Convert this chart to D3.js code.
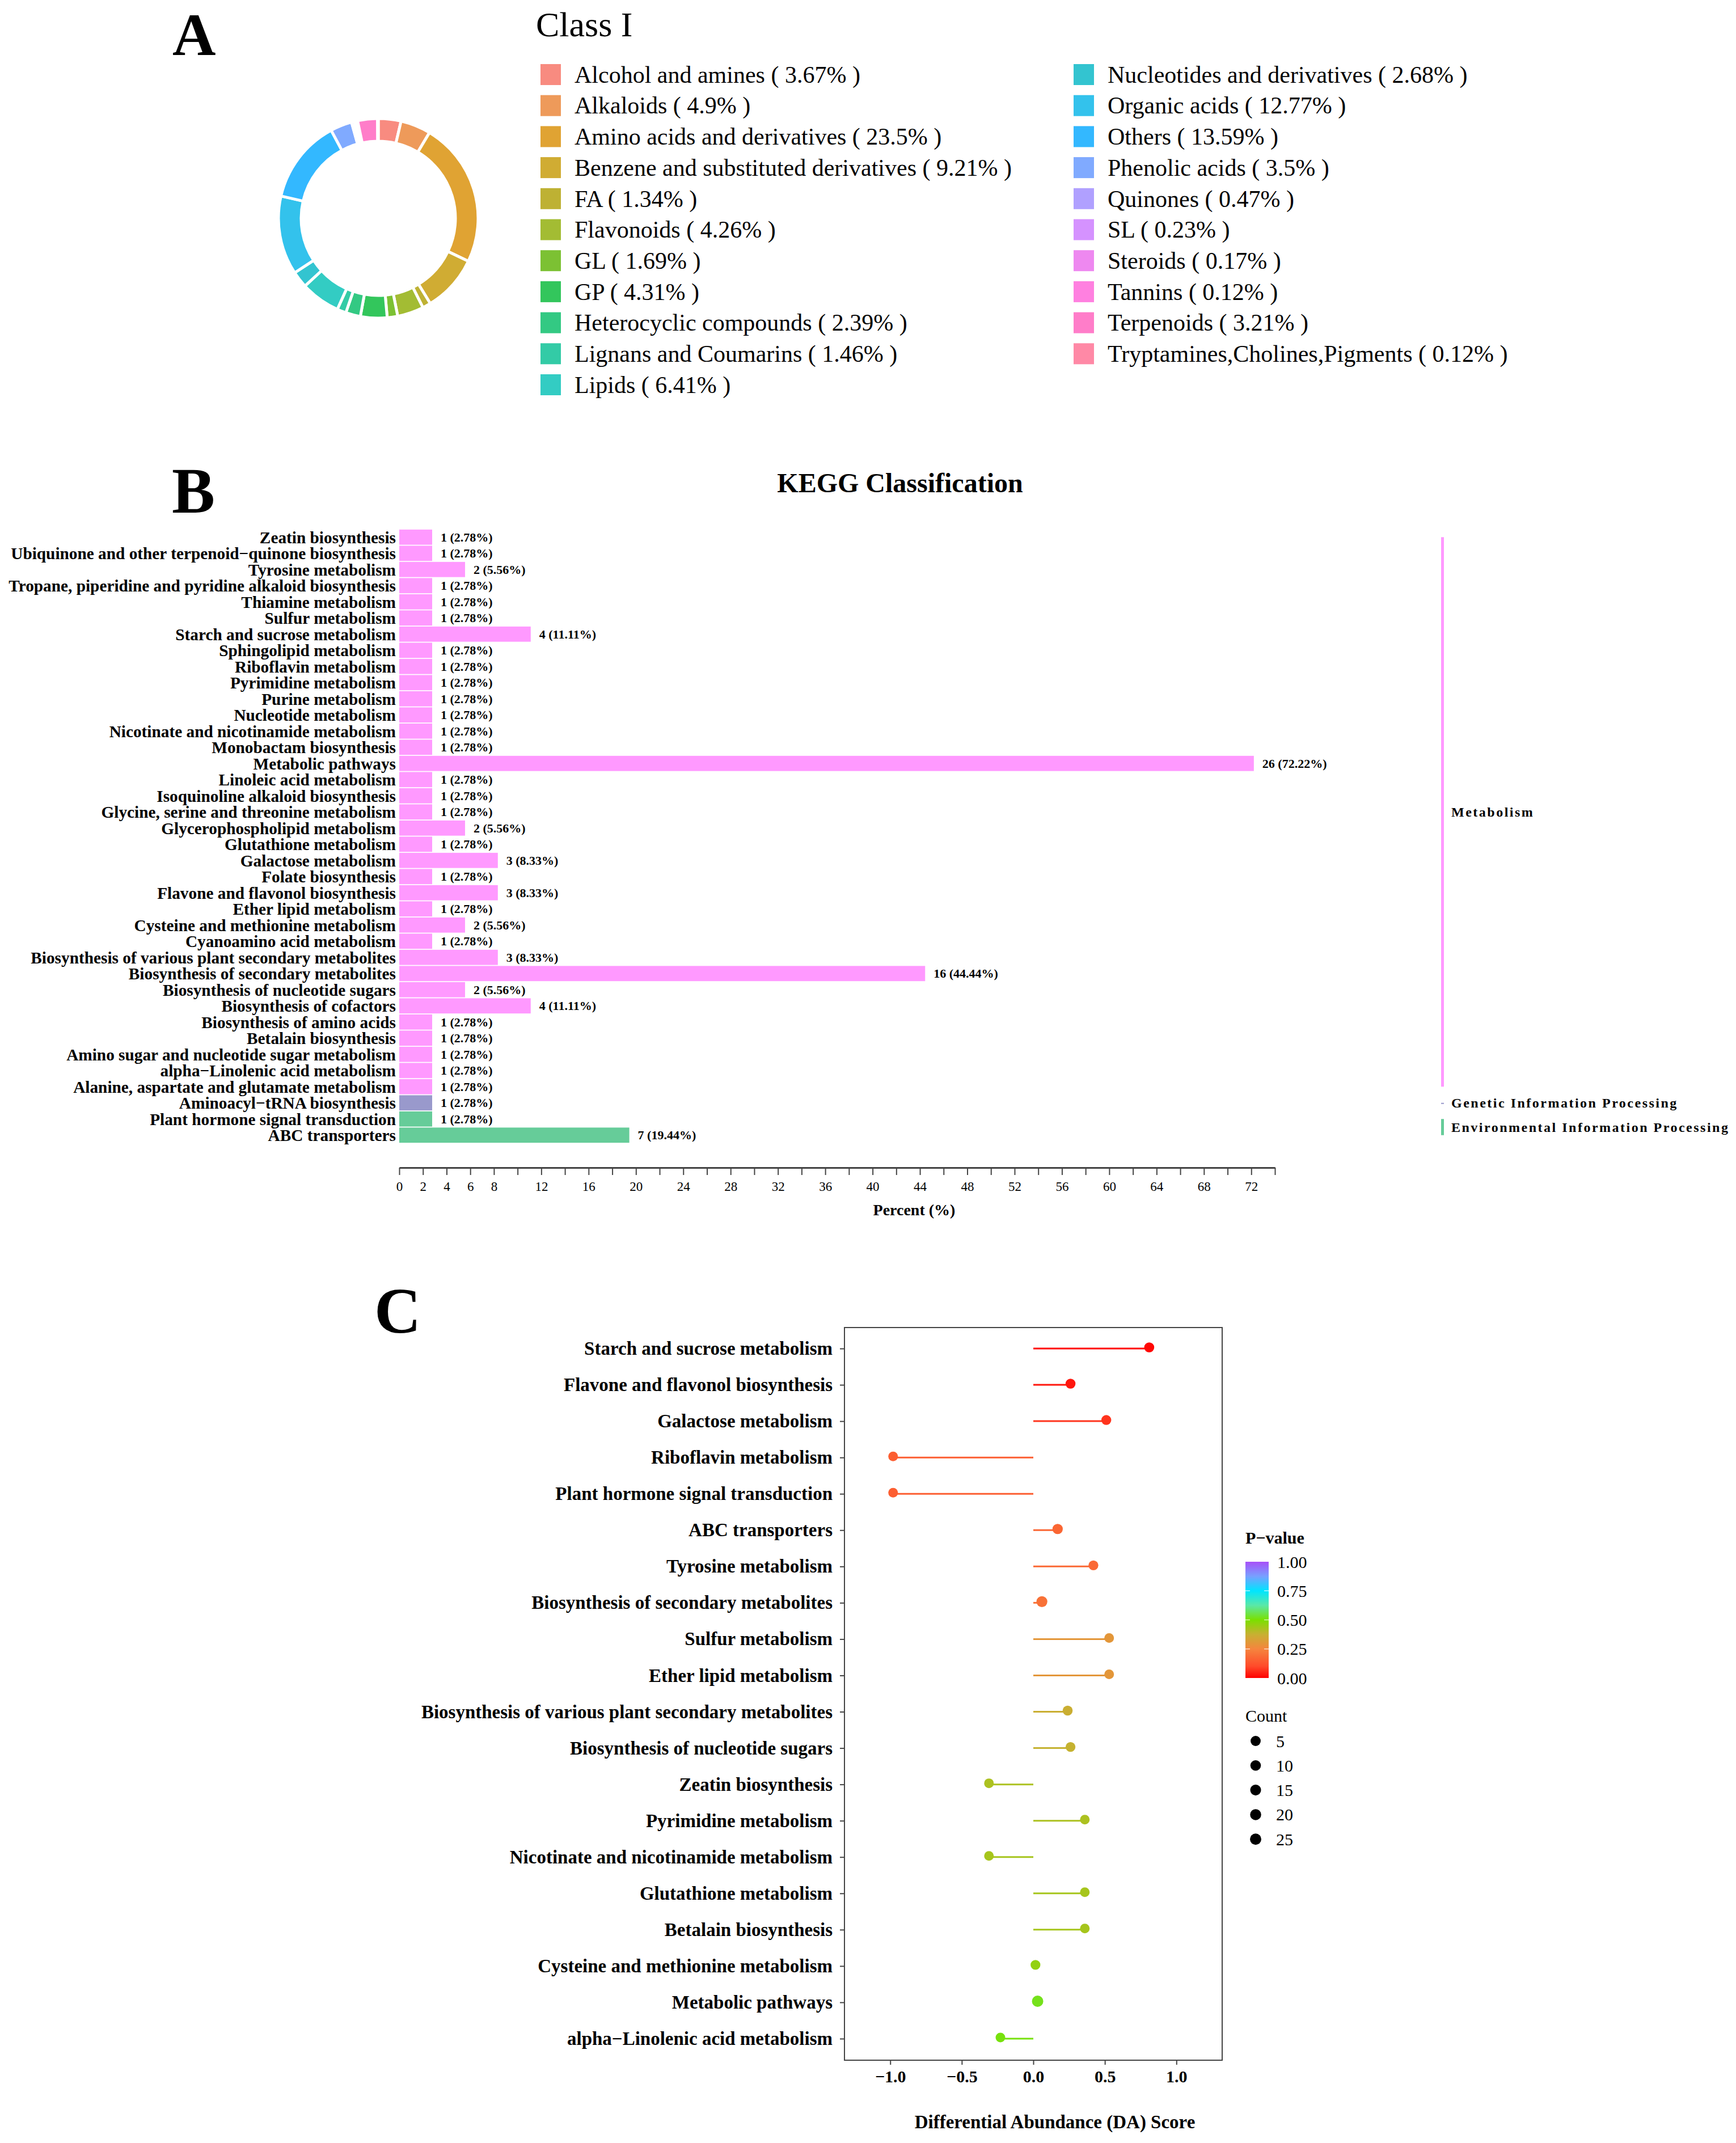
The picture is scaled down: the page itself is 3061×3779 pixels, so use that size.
<!DOCTYPE html>
<html>
<head>
<meta charset="utf-8">
<script src="https://cdn.jsdelivr.net/npm/d3@7"></script>
<style>
    body { margin: 0; background: #fff; }
    text { font-family: "Liberation Serif", "Times New Roman", serif; fill: #000; }
</style>
</head>
<body>
<div id="chart"></div>
<script>
//Panel A - compound classes
const classNames = ["Alcohol and amines", "Alkaloids", "Amino acids and derivatives", "Benzene and substituted derivatives",
    "FA", "Flavonoids", "GL", "GP", "Heterocyclic compounds", "Lignans and Coumarins", "Lipids",
    "Nucleotides and derivatives", "Organic acids", "Others", "Phenolic acids", "Quinones", "SL", "Steroids",
    "Tannins", "Terpenoids", "Tryptamines,Cholines,Pigments"];
const classPercents = [3.67, 4.9, 23.5, 9.21, 1.34, 4.26, 1.69, 4.31, 2.39, 1.46, 6.41,
    2.68, 12.77, 13.59, 3.5, 0.47, 0.23, 0.17, 0.12, 3.21, 0.12];

//Panel B - KEGG classification
const keggPathways = ["Zeatin biosynthesis", "Ubiquinone and other terpenoid\u2212quinone biosynthesis", "Tyrosine metabolism",
    "Tropane, piperidine and pyridine alkaloid biosynthesis", "Thiamine metabolism", "Sulfur metabolism",
    "Starch and sucrose metabolism", "Sphingolipid metabolism", "Riboflavin metabolism", "Pyrimidine metabolism",
    "Purine metabolism", "Nucleotide metabolism", "Nicotinate and nicotinamide metabolism", "Monobactam biosynthesis",
    "Metabolic pathways", "Linoleic acid metabolism", "Isoquinoline alkaloid biosynthesis",
    "Glycine, serine and threonine metabolism", "Glycerophospholipid metabolism", "Glutathione metabolism",
    "Galactose metabolism", "Folate biosynthesis", "Flavone and flavonol biosynthesis", "Ether lipid metabolism",
    "Cysteine and methionine metabolism", "Cyanoamino acid metabolism",
    "Biosynthesis of various plant secondary metabolites", "Biosynthesis of secondary metabolites",
    "Biosynthesis of nucleotide sugars", "Biosynthesis of cofactors", "Biosynthesis of amino acids",
    "Betalain biosynthesis", "Amino sugar and nucleotide sugar metabolism", "alpha\u2212Linolenic acid metabolism",
    "Alanine, aspartate and glutamate metabolism", "Aminoacyl\u2212tRNA biosynthesis",
    "Plant hormone signal transduction", "ABC transporters"];
const keggCounts = [1, 1, 2, 1, 1, 1, 4, 1, 1, 1, 1, 1, 1, 1, 26, 1, 1, 1, 2, 1, 3, 1, 3, 1, 2, 1, 3, 16, 2, 4,
    1, 1, 1, 1, 1, 1, 1, 7];
const keggPercents = [2.78, 2.78, 5.56, 2.78, 2.78, 2.78, 11.11, 2.78, 2.78, 2.78, 2.78, 2.78, 2.78, 2.78, 72.22,
    2.78, 2.78, 2.78, 5.56, 2.78, 8.33, 2.78, 8.33, 2.78, 5.56, 2.78, 8.33, 44.44, 5.56, 11.11,
    2.78, 2.78, 2.78, 2.78, 2.78, 2.78, 2.78, 19.44];
const keggGroupNames = ["Metabolism", "Genetic Information Processing", "Environmental Information Processing"];
const keggGroups = d3.range(35).map(() => "Metabolism")
    .concat(["Genetic Information Processing", "Environmental Information Processing", "Environmental Information Processing"]);
const percentTickLabels = [0, 2, 4, 6, 8, 12, 16, 20, 24, 28, 32, 36, 40, 44, 48, 52, 56, 60, 64, 68, 72];

//Panel C - differential abundance scores
const daPathways = ["Starch and sucrose metabolism", "Flavone and flavonol biosynthesis", "Galactose metabolism",
    "Riboflavin metabolism", "Plant hormone signal transduction", "ABC transporters", "Tyrosine metabolism",
    "Biosynthesis of secondary metabolites", "Sulfur metabolism", "Ether lipid metabolism",
    "Biosynthesis of various plant secondary metabolites", "Biosynthesis of nucleotide sugars", "Zeatin biosynthesis",
    "Pyrimidine metabolism", "Nicotinate and nicotinamide metabolism", "Glutathione metabolism",
    "Betalain biosynthesis", "Cysteine and methionine metabolism", "Metabolic pathways",
    "alpha\u2212Linolenic acid metabolism"];
const daScores = [0.81, 0.26, 0.51, -0.98, -0.98, 0.17, 0.42, 0.06, 0.53, 0.53,
    0.24, 0.26, -0.31, 0.36, -0.31, 0.36, 0.36, 0.015, 0.03, -0.23];
const daPvalues = [0.01, 0.03, 0.07, 0.15, 0.15, 0.17, 0.18, 0.2, 0.3, 0.3,
    0.37, 0.38, 0.42, 0.42, 0.43, 0.43, 0.43, 0.46, 0.52, 0.51];
const daCounts = [4, 3, 3, 1, 1, 7, 2, 16, 1, 1, 3, 2, 1, 1, 1, 1, 1, 2, 26, 1];
const daTicks = [-1, -0.5, 0, 0.5, 1];
const pvalTicks = [0, 0.25, 0.5, 0.75, 1];
const countTicks = [5, 10, 15, 20, 25];

//Colours
const classColors = ["#F88B80", "#EE9A5A", "#E0A333", "#D0AC33", "#BEB133", "#A3BC33", "#7CC133", "#33C65C",
    "#33C983", "#33CBA6", "#33CCC3", "#33C4D0", "#33C2EC", "#33B8FF", "#80AAFF", "#B0A0FF", "#D592FF",
    "#EE88F0", "#FF80E0", "#FF7DC9", "#FF89A6"];
const groupColors = ["#FF99FF", "#9999CC", "#66CC99"];
const pStops = [0, 0.1, 0.25, 0.375, 0.5, 0.625, 0.75, 0.875, 1];
const pColors = ["#FF0000", "#FF4A2A", "#F5853E", "#C8B032", "#7AE000", "#5AE8A8", "#00E5FF", "#78A0FF", "#A850F8"];

const W = 3061, H = 3779;
let svg = d3.select("#chart").append("svg")
    .attr("width", W).attr("height", H)
    .style("background", "#fff");

renderClassDonut();
renderKeggBars();
renderDaScores();

function panelLetter(letter, x, y, size) {
    svg.append("text").attr("x", x).attr("y", y)
        .attr("font-size", size).attr("font-weight", "bold")
        .text(letter);
}

function renderClassDonut() {
    panelLetter("A", 304, 97, 106);

    //Donut
    let pie = d3.pie().sort(null).value(d => d);
    let arc = d3.arc().innerRadius(136).outerRadius(176);
    svg.append("g").attr("transform", "translate(667,385)")
        .selectAll("path").data(pie(classPercents)).enter().append("path")
        .attr("d", arc)
        .attr("fill", (d, i) => classColors[i])
        .attr("stroke", "#fff").attr("stroke-width", 5);

    //Legend
    svg.append("text").attr("x", 945).attr("y", 64).attr("font-size", 62).text("Class I");
    let items = svg.append("g").selectAll("g").data(classNames).enter().append("g")
        .attr("transform", (d, i) => {
            let col = i < 11 ? 0 : 1;
            let row = col ? i - 11 : i;
            return "translate(" + (col ? 1893 : 953) + "," + (131 + row * 54.7) + ")";
        });
    items.append("rect").attr("x", 0).attr("y", -18).attr("width", 36).attr("height", 37)
        .attr("fill", (d, i) => classColors[i]);
    items.append("text").attr("x", 60).attr("y", 0).attr("dy", "0.35em").attr("font-size", 42)
        .text((d, i) => d + " ( " + classPercents[i] + "% )");
}

function renderKeggBars() {
    panelLetter("B", 303, 904, 114);

    let x = d3.scaleLinear().domain([0, 74]).range([704, 2248]);
    let y = d3.scaleBand().domain(keggPathways).range([933, 2016]).paddingInner(0.06).paddingOuter(0.03);
    let color = d3.scaleOrdinal().domain(keggGroupNames).range(groupColors);

    svg.append("text").attr("x", 1587).attr("y", 868).attr("text-anchor", "middle")
        .attr("font-size", 48).attr("font-weight", "bold").text("KEGG Classification");

    //Bars
    let g = svg.append("g");
    g.selectAll("rect").data(keggPathways).enter().append("rect")
        .attr("x", x(0))
        .attr("y", d => y(d))
        .attr("width", (d, i) => x(keggPercents[i]) - x(0))
        .attr("height", y.bandwidth())
        .attr("fill", (d, i) => color(keggGroups[i]));

    g.selectAll("text.value").data(keggPathways).enter().append("text").attr("class", "value")
        .attr("x", (d, i) => x(keggPercents[i]) + 15)
        .attr("y", d => y(d) + y.bandwidth() / 2)
        .attr("dy", "0.35em").attr("font-size", 22).attr("font-weight", "bold")
        .text((d, i) => keggCounts[i] + " (" + keggPercents[i].toFixed(2) + "%)");

    g.selectAll("text.name").data(keggPathways).enter().append("text").attr("class", "name")
        .attr("x", 698)
        .attr("y", d => y(d) + y.bandwidth() / 2)
        .attr("dy", "0.35em").attr("text-anchor", "end")
        .attr("font-size", 29.3).attr("font-weight", "bold")
        .text(d => d);

    //X axis
    let xAxis = d3.axisBottom(x).tickValues(d3.range(0, 75, 2)).tickSize(13).tickSizeOuter(0).tickPadding(12)
        .tickFormat(d => percentTickLabels.includes(d) ? d : "");
    let ax = svg.append("g").attr("transform", "translate(0,2059)").call(xAxis);
    ax.attr("font-size", 23);
    ax.select(".domain").attr("stroke", "#444").attr("stroke-width", 3);
    ax.selectAll(".tick line").attr("stroke", "#444").attr("stroke-width", 2);

    svg.append("text").attr("x", 1612).attr("y", 2143).attr("text-anchor", "middle")
        .attr("font-size", 28).attr("font-weight", "bold").text("Percent (%)");

    //Group brackets on the right
    keggGroupNames.forEach(name => {
        let rows = keggPathways.filter((d, i) => keggGroups[i] === name);
        let y1 = y(rows[0]) + y.bandwidth() / 2;
        let y2 = y(rows[rows.length - 1]) + y.bandwidth() / 2;
        svg.append("rect").attr("x", 2541).attr("width", 5)
            .attr("y", y1).attr("height", Math.max(y2 - y1, 2))
            .attr("fill", color(name));
        svg.append("text").attr("x", 2559).attr("y", (y1 + y2) / 2).attr("dy", "0.35em")
            .attr("font-size", 24).attr("font-weight", "bold").attr("letter-spacing", 2.5)
            .text(name);
    });
}

function renderDaScores() {
    panelLetter("C", 660, 2350, 114);

    let left = 1489, right = 2155, top = 2341, bottom = 3633;
    let x = d3.scaleLinear().domain([-1.32, 1.32]).range([left, right]);
    let y = d3.scalePoint().domain(daPathways).range([2378, 3595]);
    let color = d3.scaleLinear().domain(pStops).range(pColors).clamp(true);
    let size = d3.scaleSqrt().domain([1, 26]).range([8.5, 10]);

    //Panel border
    svg.append("rect").attr("x", left).attr("y", top).attr("width", right - left).attr("height", bottom - top)
        .attr("fill", "none").attr("stroke", "#444").attr("stroke-width", 2);

    //Lollipops
    let g = svg.append("g");
    g.selectAll("line").data(daPathways).enter().append("line")
        .attr("x1", x(0)).attr("x2", (d, i) => x(daScores[i]))
        .attr("y1", d => y(d)).attr("y2", d => y(d))
        .attr("stroke", (d, i) => color(daPvalues[i])).attr("stroke-width", 3);
    g.selectAll("circle").data(daPathways).enter().append("circle")
        .attr("cx", (d, i) => x(daScores[i]))
        .attr("cy", d => y(d) - 2)
        .attr("r", (d, i) => size(daCounts[i]))
        .attr("fill", (d, i) => color(daPvalues[i]));

    //Axes
    let xAxis = d3.axisBottom(x).tickValues(daTicks).tickSize(8).tickPadding(10).tickFormat(d3.format(".1f"));
    let ax = svg.append("g").attr("transform", "translate(0," + bottom + ")").call(xAxis);
    ax.attr("font-size", 30).attr("font-weight", "bold");
    ax.select(".domain").remove();
    ax.selectAll(".tick line").attr("stroke", "#444").attr("stroke-width", 2);

    let yAxis = d3.axisLeft(y).tickSize(8).tickPadding(13);
    let ay = svg.append("g").attr("transform", "translate(" + left + ",0)").call(yAxis);
    ay.attr("font-size", 33).attr("font-weight", "bold");
    ay.select(".domain").remove();
    ay.selectAll(".tick line").attr("stroke", "#444").attr("stroke-width", 2);

    svg.append("text").attr("x", 1860).attr("y", 3753).attr("text-anchor", "middle")
        .attr("font-size", 33).attr("font-weight", "bold").text("Differential Abundance (DA) Score");

    //P-value colour bar
    let barX = 2196, barTop = 2754, barH = 205, barW = 41;
    let grad = svg.append("defs").append("linearGradient").attr("id", "pgrad")
        .attr("x1", 0).attr("y1", 1).attr("x2", 0).attr("y2", 0);
    grad.selectAll("stop").data(pStops).enter().append("stop")
        .attr("offset", d => d).attr("stop-color", d => color(d));
    svg.append("text").attr("x", barX).attr("y", 2722).attr("font-size", 30).attr("font-weight", "bold").text("P\u2212value");
    svg.append("rect").attr("x", barX).attr("y", barTop).attr("width", barW).attr("height", barH).attr("fill", "url(#pgrad)");
    let pv = d3.scaleLinear().domain([0, 1]).range([barTop + barH, barTop]);
    pvalTicks.forEach(v => {
        if (v > 0 && v < 1) {
            svg.append("line").attr("x1", barX).attr("x2", barX + 8).attr("y1", pv(v)).attr("y2", pv(v))
                .attr("stroke", "#fff").attr("stroke-width", 1.5).attr("opacity", 0.7);
            svg.append("line").attr("x1", barX + barW - 8).attr("x2", barX + barW).attr("y1", pv(v)).attr("y2", pv(v))
                .attr("stroke", "#fff").attr("stroke-width", 1.5).attr("opacity", 0.7);
        }
        svg.append("text").attr("x", barX + 56).attr("y", pv(v)).attr("dy", "0.35em")
            .attr("font-size", 30).text(d3.format(".2f")(v));
    });

    //Count legend
    svg.append("text").attr("x", barX).attr("y", 3036).attr("font-size", 30).text("Count");
    countTicks.forEach((c, i) => {
        let cy = 3070 + i * 43.3;
        svg.append("circle").attr("cx", 2214).attr("cy", cy).attr("r", size(c)).attr("fill", "#000");
        svg.append("text").attr("x", 2250).attr("y", cy).attr("dy", "0.35em").attr("font-size", 30).text(c);
    });
}
</script>
</body>
</html>
